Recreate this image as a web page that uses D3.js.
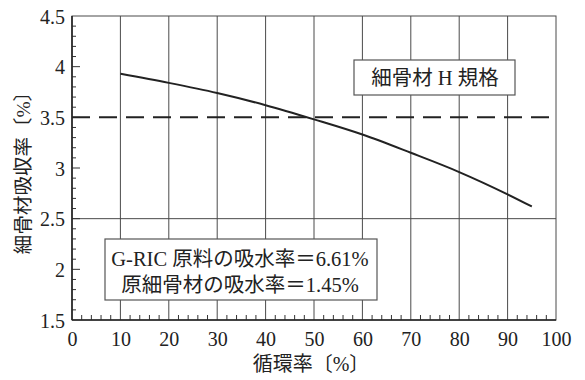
<!DOCTYPE html>
<html>
<head>
<meta charset="utf-8">
<script src="https://cdn.jsdelivr.net/npm/d3@7"></script>
<style>
  html, body { margin: 0; padding: 0; background: #fff; }
  svg text { font-family: "Liberation Serif", "Noto Sans CJK JP", serif; fill: #222; }
</style>
</head>
<body>
<svg id="chart" width="585" height="380"></svg>
<script>
// Recycling rate [%] vs. fine aggregate water absorption [%]
const recycleRate = [10, 20, 30, 40, 50, 60, 70, 80, 90, 95];
const absorption  = [3.93, 3.84, 3.74, 3.62, 3.48, 3.33, 3.15, 2.96, 2.74, 2.62];

const xTicks = [0, 10, 20, 30, 40, 50, 60, 70, 80, 90, 100];
const yTicks = [1.5, 2, 2.5, 3, 3.5, 4, 4.5];
const yTickLabels = ["1.5", "2", "2.5", "3", "3.5", "4", "4.5"];

const specLimit = 3.5;      // 細骨材 H 規格
const refLine = 2.5;
const specLabel = "細骨材 H 規格";
const noteLines = ["G-RIC 原料の吸水率＝6.61%", "原細骨材の吸水率＝1.45%"];
const xTitle = "循環率〔%〕";
const yTitle = "細骨材吸収率〔%〕";

const svg = d3.select("#chart");
const L = 72, R = 556, T = 16, B = 320;

const x = d3.scaleLinear().domain([0, 100]).range([L, R]);
const y = d3.scaleLinear().domain([1.5, 4.5]).range([B, T]);

const gridColor = "#4a4a4a";

// vertical grid lines
svg.append("g").selectAll("line")
  .data(xTicks.filter(d => d > 0 && d < 100))
  .join("line")
  .attr("x1", d => x(d)).attr("x2", d => x(d))
  .attr("y1", T).attr("y2", B)
  .attr("stroke", gridColor).attr("stroke-width", 1);

// solid horizontal line at 2.5
svg.append("line")
  .attr("x1", L).attr("x2", R)
  .attr("y1", y(refLine)).attr("y2", y(refLine))
  .attr("stroke", gridColor).attr("stroke-width", 1);

// minor ticks on the x axis (every 2)
svg.append("g").selectAll("line")
  .data(d3.range(2, 100, 2).filter(d => d % 10 !== 0))
  .join("line")
  .attr("x1", d => x(d)).attr("x2", d => x(d))
  .attr("y1", B).attr("y2", B - 5)
  .attr("stroke", "#333").attr("stroke-width", 1);

// minor / major ticks on the y axis
svg.append("g").selectAll("line")
  .data(d3.range(16, 45).map(d => d / 10))
  .join("line")
  .attr("x1", L)
  .attr("x2", d => L + (Math.abs(d * 2 - Math.round(d * 2)) < 1e-6 ? 8 : 4))
  .attr("y1", d => y(d)).attr("y2", d => y(d))
  .attr("stroke", "#333").attr("stroke-width", 1);

// frame
svg.append("rect")
  .attr("x", L).attr("y", T).attr("width", R - L).attr("height", B - T)
  .attr("fill", "none").attr("stroke", gridColor).attr("stroke-width", 1);
svg.append("line").attr("x1", L).attr("x2", R).attr("y1", B).attr("y2", B)
  .attr("stroke", "#222").attr("stroke-width", 1.6);
svg.append("line").attr("x1", L).attr("x2", L).attr("y1", T).attr("y2", B)
  .attr("stroke", "#222").attr("stroke-width", 1.6);

// dashed spec limit
svg.append("line")
  .attr("x1", L).attr("x2", R)
  .attr("y1", y(specLimit)).attr("y2", y(specLimit))
  .attr("stroke", "#222").attr("stroke-width", 2)
  .attr("stroke-dasharray", "18,9");

// absorption curve
svg.append("path")
  .datum(recycleRate.map((r, i) => [r, absorption[i]]))
  .attr("d", d3.line().x(d => x(d[0])).y(d => y(d[1])).curve(d3.curveMonotoneX))
  .attr("fill", "none").attr("stroke", "#222").attr("stroke-width", 2);

// axis tick labels
const xAxis = d3.axisBottom(x).tickValues(xTicks).tickSize(0).tickPadding(11);
const gx = svg.append("g").attr("transform", `translate(0,${B})`).call(xAxis);
gx.select(".domain").remove();
gx.selectAll("text").style("font-size", "20px").attr("fill", "#222").attr("dy", "0.75em");

const yAxis = d3.axisLeft(y).tickValues(yTicks).tickFormat((d, i) => yTickLabels[i]).tickSize(0).tickPadding(7);
const gy = svg.append("g").attr("transform", `translate(${L},0)`).call(yAxis);
gy.select(".domain").remove();
gy.selectAll("text").style("font-size", "20px").attr("fill", "#222").attr("dy", "0.35em");

// axis titles
svg.append("text")
  .attr("x", 311).attr("y", 371)
  .attr("text-anchor", "middle")
  .style("font-size", "20px")
  .text(xTitle);
svg.append("text")
  .attr("transform", "translate(30,168) rotate(-90)")
  .attr("text-anchor", "middle")
  .style("font-size", "19.5px")
  .text(yTitle);

// spec label box
svg.append("rect")
  .attr("x", 354).attr("y", 60).attr("width", 161).attr("height", 35)
  .attr("fill", "#fff").attr("stroke", "#555").attr("stroke-width", 1.2);
svg.append("text")
  .attr("x", 435).attr("y", 85)
  .attr("text-anchor", "middle")
  .style("font-size", "20.5px")
  .text(specLabel);

// raw material note box
svg.append("rect")
  .attr("x", 105).attr("y", 239).attr("width", 272).attr("height", 61)
  .attr("fill", "#fff").attr("stroke", "#555").attr("stroke-width", 1.2);
svg.append("g").selectAll("text")
  .data(noteLines)
  .join("text")
  .attr("x", 240)
  .attr("y", (d, i) => 266 + i * 26)
  .attr("text-anchor", "middle")
  .style("font-size", "20.5px")
  .text(d => d);
</script>
</body>
</html>
